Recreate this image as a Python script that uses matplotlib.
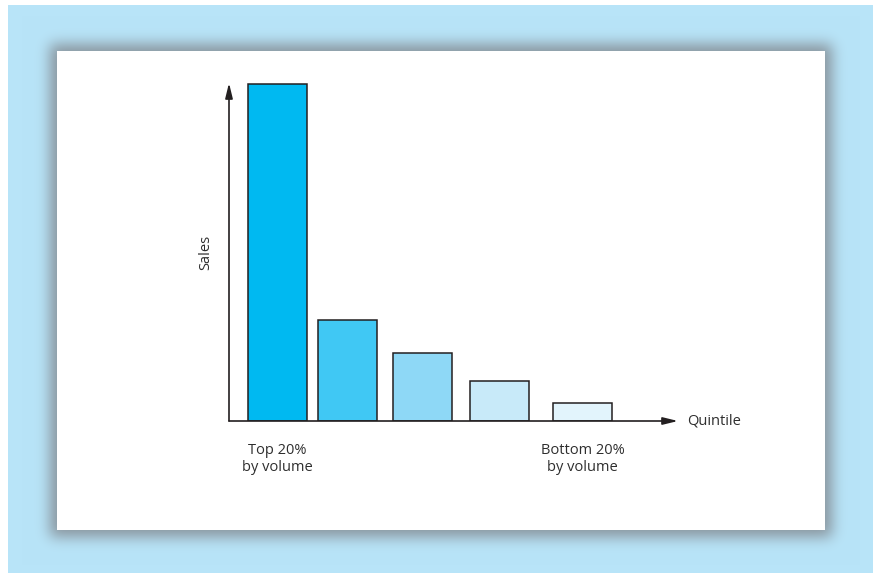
import numpy as np
import matplotlib
matplotlib.use("Agg")
import matplotlib.pyplot as plt
import matplotlib.transforms as mtransforms

# data (sales in arbitrary units, top quintile = 100)
quintiles = ["Q1", "Q2", "Q3", "Q4", "Q5"]
sales = [100, 30, 20.2, 11.9, 5.3]
bar_pos = [0.82, 2.01, 3.28, 4.58, 5.99]
bar_colors = ["#00b9f1", "#40c8f4", "#8ed8f6", "#c8eaf9", "#e2f4fc"]
tick_labels = ["Top 20%\nby volume", "Bottom 20%\nby volume"]

plt.rcParams['font.family'] = ['Open Sans', 'DejaVu Sans']
txt_color = "#2e2e2e"

W, H = 875, 573
fig = plt.figure(figsize=(W / 100, H / 100), dpi=100)

# ---- background: blue frame, soft grey shadow, white panel ----
def soft_step(n, a, b, sigma):
    ind = np.zeros(n)
    ind[a:b] = 1.0
    k = np.arange(-4 * sigma, 4 * sigma + 1)
    g = np.exp(-0.5 * (k / sigma) ** 2)
    g /= g.sum()
    return np.convolve(ind, g, mode="same")

blue = np.array([184, 228, 248]) / 255
grey = np.array([135, 145, 153]) / 255
img = np.ones((H, W, 3))
pl, pr, pt, pb = 57, 825, 51, 530
grow = 7
fx = soft_step(W, pl - grow, pr + grow, 7)
fy = soft_step(H, pt - grow, pb + grow, 7)
alpha = (fy[:, None] * fx[None, :]) * 0.95
sh = blue[None, None, :] * (1 - alpha[..., None]) + grey[None, None, :] * alpha[..., None]
img[5:, 8:873] = sh[5:, 8:873]
img[pt:pb, pl:pr] = 1.0

bg = fig.add_axes([0, 0, 1, 1])
bg.imshow(img, extent=(0, W, H, 0), interpolation="bilinear")
bg.set_xlim(0, W)
bg.set_ylim(H, 0)
bg.axis("off")

# ---- chart axes ----
x0, x1, ybase, ytop = 229, 678, 421, 83
ax = fig.add_axes([x0 / W, (H - ybase) / H, (x1 - x0) / W, (ybase - ytop) / H])
ax.patch.set_visible(False)
ax.bar(bar_pos, sales, width=1.0, color=bar_colors, edgecolor="#231f20",
       linewidth=1.1, zorder=3)
ax.set_xlim(0, (x1 - x0) / 59)
ax.set_ylim(0, 100.3)
for s in ax.spines.values():
    s.set_visible(False)

arrow = dict(arrowstyle="-|>,head_length=0.9,head_width=0.22", color="#231f20",
             lw=1.2, shrinkA=0, shrinkB=0)
ax.annotate("", xy=(0, 1), xytext=(0, 0), xycoords="axes fraction", arrowprops=arrow)
ax.annotate("", xy=(1, 0), xytext=(0, 0), xycoords="axes fraction", arrowprops=arrow)

ax.set_yticks([])
ax.set_xticks([bar_pos[0], bar_pos[-1]])
ax.set_xticklabels(tick_labels, fontsize=10.5, color=txt_color, linespacing=1.2)
ax.tick_params(axis="x", length=0, pad=15.5)
ax.set_ylabel("Sales", fontsize=10.5, color=txt_color, labelpad=11)

off = mtransforms.offset_copy(ax.transAxes, fig=fig, x=9, y=0, units="dots")
ax.text(1, 0, "Quintile", transform=off, fontsize=10.5, color=txt_color,
        va="center", ha="left")

fig.savefig("out.png", dpi=100)
